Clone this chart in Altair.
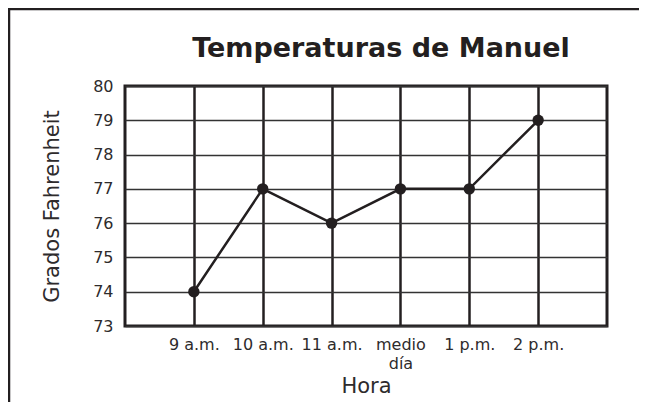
import altair as alt
import pandas as pd

horas = ["9 a.m.", "10 a.m.", "11 a.m.", "medio\ndía", "1 p.m.", "2 p.m."]
temperaturas = [74, 77, 76, 77, 77, 79]
y_ticks = [73, 74, 75, 76, 77, 78, 79, 80]
titulo = ["Temperaturas de Manuel"]

df = pd.DataFrame({"hora": horas, "temp": temperaturas})

INK = "#231f20"
TXT = "#2e2b2c"
FONT = "DejaVu Sans"

x_enc = alt.X(
    "hora:N",
    sort=horas,
    scale=alt.Scale(type="point", padding=1),
    axis=alt.Axis(
        title="Hora",
        labelAngle=0,
        labelExpr="split(datum.value, '\\n')",
        labelFont=FONT,
        labelFontSize=16,
        labelFontWeight="normal",
        labelColor=TXT,
        labelPadding=10,
        labelLineHeight=19,
        titleFont=FONT,
        titleFontSize=21,
        titleFontWeight="normal",
        titleColor=TXT,
        titlePadding=4,
        ticks=False,
        domain=False,
        grid=True,
        gridColor=INK,
        gridWidth=2.5,
        gridOpacity=1,
    ),
)
y_enc = alt.Y(
    "temp:Q",
    scale=alt.Scale(domain=[73, 80], nice=False, zero=False),
    axis=alt.Axis(
        title="Grados Fahrenheit",
        values=y_ticks,
        labelFont=FONT,
        labelFontSize=16,
        labelFontWeight="normal",
        labelColor=TXT,
        labelPadding=12,
        titleFont=FONT,
        titleFontSize=21,
        titleFontWeight="normal",
        titleColor=TXT,
        titlePadding=30,
        ticks=False,
        domain=False,
        grid=True,
        gridColor="#333333",
        gridWidth=1.5,
        gridOpacity=1,
    ),
)

base = alt.Chart(df).encode(x=x_enc, y=y_enc)
line = base.mark_line(color=INK, strokeWidth=2.5)
pts = base.mark_circle(color=INK, opacity=1, size=130)

title_df = pd.DataFrame({"t": titulo})
title_mark = alt.Chart(title_df).mark_text(
    font=FONT, fontSize=27, fontWeight="bold", color=INK, baseline="alphabetic", align="center"
).encode(text="t:N", x=alt.value(256), y=alt.value(-29))

frame_top = alt.Chart(title_df).mark_rule(color=INK, strokeWidth=2.5).encode(
    x=alt.value(-117), x2=alt.value(522), y=alt.value(-77)
)
frame_left = alt.Chart(title_df).mark_rule(color=INK, strokeWidth=2.5).encode(
    x=alt.value(-116), y=alt.value(-78), y2=alt.value(330)
)

chart = (
    alt.layer(frame_top, frame_left, title_mark, line, pts)
    .properties(
        width=482,
        height=240,
        autosize=alt.AutoSizeParams(type="none"),
        padding={"left": 117, "top": 78, "right": 32, "bottom": 76},
    )
    .configure_view(stroke=INK, strokeWidth=3)
)

chart.save("out.html", embed_options={"renderer": "svg", "actions": False})
